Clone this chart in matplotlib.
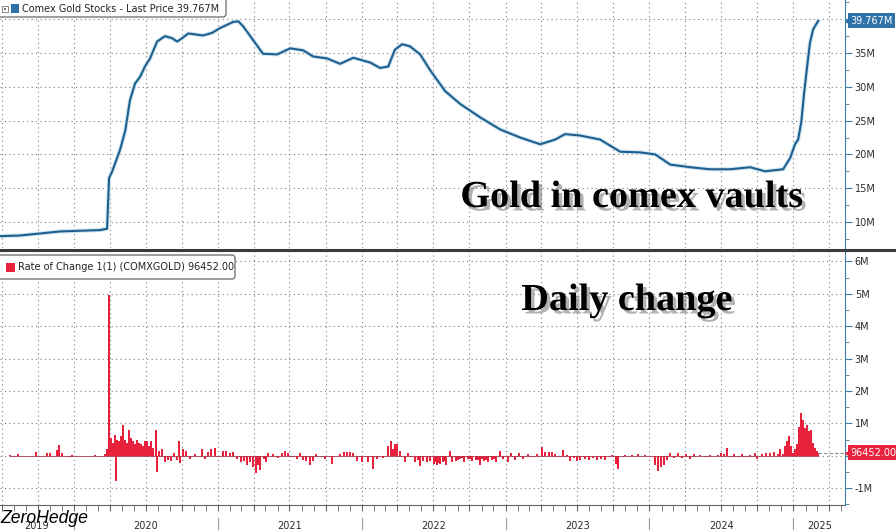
import numpy as np
import matplotlib
matplotlib.use("Agg")
import matplotlib.pyplot as plt
import matplotlib.dates as mdates
import matplotlib.patheffects as pe
from matplotlib.patches import Rectangle, FancyBboxPatch
from matplotlib.lines import Line2D
from matplotlib.transforms import IdentityTransform

# ---- values (millions of oz) ----
stock = [
    ("2019-06-27", 7.9), ("2019-08-17", 8.0), ("2019-10-07", 8.3), ("2019-11-26", 8.6),
    ("2020-01-16", 8.7), ("2020-03-07", 8.8), ("2020-03-25", 9.0), ("2020-03-30", 16.5),
    ("2020-04-07", 17.5), ("2020-04-27", 20.7), ("2020-05-10", 23.5), ("2020-05-22", 28.0),
    ("2020-06-04", 30.5), ("2020-06-17", 31.5), ("2020-06-29", 33.0), ("2020-07-12", 34.2),
    ("2020-07-30", 36.7), ("2020-08-19", 37.5), ("2020-09-06", 37.2), ("2020-09-19", 36.7),
    ("2020-10-04", 37.3), ("2020-10-17", 37.9), ("2020-11-24", 37.6), ("2020-12-17", 38.0),
    ("2021-01-06", 38.7), ("2021-02-08", 39.6), ("2021-02-21", 39.7), ("2021-03-05", 39.0),
    ("2021-03-31", 36.9), ("2021-04-25", 34.9), ("2021-05-31", 34.8), ("2021-07-03", 35.7),
    ("2021-08-05", 35.4), ("2021-08-30", 34.5), ("2021-10-05", 34.2), ("2021-11-07", 33.4),
    ("2021-12-10", 34.3), ("2022-01-22", 33.6), ("2022-02-16", 32.8), ("2022-03-09", 33.0),
    ("2022-03-26", 35.5), ("2022-04-13", 36.3), ("2022-05-03", 36.0), ("2022-05-29", 34.8),
    ("2022-06-23", 32.5), ("2022-07-31", 29.4), ("2022-09-07", 27.5), ("2022-10-28", 25.5),
    ("2022-12-18", 23.7), ("2023-02-07", 22.5), ("2023-03-30", 21.5), ("2023-05-07", 22.2),
    ("2023-06-01", 23.0), ("2023-07-09", 22.8), ("2023-08-29", 22.2), ("2023-10-19", 20.4),
    ("2023-12-09", 20.3), ("2024-01-16", 20.0), ("2024-02-23", 18.5), ("2024-04-14", 18.1),
    ("2024-06-03", 17.8), ("2024-07-24", 17.8), ("2024-09-13", 18.1), ("2024-10-21", 17.5),
    ("2024-12-06", 17.8), ("2024-12-24", 19.5), ("2025-01-05", 21.5), ("2025-01-13", 22.2),
    ("2025-01-21", 24.8), ("2025-01-28", 29.0), ("2025-02-05", 33.1), ("2025-02-12", 36.5),
    ("2025-02-20", 38.5), ("2025-03-05", 39.767),
]

change_2019 = [
    ("2019-07-22", 0.03), ("2019-08-12", 0.05), ("2019-09-26", 0.13), ("2019-10-24", 0.08),
    ("2019-11-01", 0.1), ("2019-11-19", 0.19), ("2019-11-24", 0.34), ("2019-12-02", 0.08),
    ("2019-12-22", -0.05), ("2019-12-27", 0.03),
]
change_2020 = [
    ("2020-02-23", 0.03), ("2020-03-20", 0.05), ("2020-03-25", 0.2), ("2020-03-30", 4.95),
    ("2020-04-04", 0.55), ("2020-04-09", 0.4), ("2020-04-14", 0.65), ("2020-04-17", -0.78),
    ("2020-04-19", 0.5), ("2020-04-24", 0.45), ("2020-04-29", 0.6), ("2020-05-04", 0.95),
    ("2020-05-10", 0.5), ("2020-05-15", 0.4), ("2020-05-20", 0.8), ("2020-05-25", 0.55),
    ("2020-05-30", 0.45), ("2020-06-04", 0.35), ("2020-06-09", 0.5), ("2020-06-14", 0.4),
    ("2020-06-19", 0.35), ("2020-06-24", 0.3), ("2020-06-29", 0.45), ("2020-07-04", 0.45),
    ("2020-07-10", 0.3), ("2020-07-15", 0.45), ("2020-07-20", 0.25), ("2020-07-27", 0.8),
    ("2020-07-30", -0.5), ("2020-08-04", 0.15), ("2020-08-12", 0.2), ("2020-08-19", -0.2),
    ("2020-08-27", -0.12), ("2020-09-03", -0.15), ("2020-09-11", 0.1), ("2020-09-19", -0.12),
    ("2020-09-24", 0.47), ("2020-09-26", -0.23), ("2020-10-04", 0.2), ("2020-10-11", 0.15),
    ("2020-10-22", -0.1), ("2020-11-03", 0.05), ("2020-11-21", 0.2), ("2020-11-29", -0.1),
    ("2020-12-06", 0.12), ("2020-12-14", 0.2), ("2020-12-24", 0.25),
]
change_2021 = [
    ("2021-01-03", -0.05), ("2021-01-13", 0.15), ("2021-01-21", 0.15), ("2021-01-31", 0.1),
    ("2021-02-08", 0.12), ("2021-02-18", -0.1), ("2021-02-28", -0.2), ("2021-03-08", -0.15),
    ("2021-03-15", -0.28), ("2021-03-23", -0.2), ("2021-03-31", -0.35), ("2021-04-07", -0.54),
    ("2021-04-12", -0.3), ("2021-04-17", -0.44), ("2021-04-28", -0.1), ("2021-05-03", -0.2),
    ("2021-05-08", 0.1), ("2021-05-20", 0.05), ("2021-06-02", -0.08), ("2021-06-12", 0.1),
    ("2021-06-20", 0.15), ("2021-06-28", 0.1), ("2021-07-08", -0.05), ("2021-07-20", -0.1),
    ("2021-07-28", 0.08), ("2021-08-05", -0.12), ("2021-08-12", -0.15), ("2021-08-22", -0.28),
    ("2021-08-30", -0.15), ("2021-09-07", 0.05), ("2021-09-30", -0.1), ("2021-10-17", -0.25),
    ("2021-11-07", 0.05), ("2021-11-17", 0.13), ("2021-11-24", 0.13), ("2021-12-02", 0.13),
    ("2021-12-10", 0.08), ("2021-12-20", -0.15),
]
change_2022 = [
    ("2022-01-02", -0.2), ("2022-01-17", -0.2), ("2022-01-29", -0.42), ("2022-02-09", -0.1),
    ("2022-02-24", -0.08), ("2022-03-09", 0.3), ("2022-03-16", 0.45), ("2022-03-21", 0.2),
    ("2022-03-26", 0.36), ("2022-03-31", 0.36), ("2022-04-08", 0.15), ("2022-04-21", -0.2),
    ("2022-04-28", 0.1), ("2022-05-06", -0.05), ("2022-05-16", -0.2), ("2022-05-24", -0.12),
    ("2022-05-29", -0.33), ("2022-06-05", -0.15), ("2022-06-16", -0.2), ("2022-06-23", -0.15),
    ("2022-07-03", -0.25), ("2022-07-07", -0.18), ("2022-07-11", -0.3), ("2022-07-15", -0.22),
    ("2022-07-19", -0.25), ("2022-07-26", -0.2), ("2022-07-30", -0.15), ("2022-08-03", -0.28),
    ("2022-08-13", 0.15), ("2022-08-18", -0.2), ("2022-08-28", -0.15), ("2022-09-02", -0.12),
    ("2022-09-07", -0.1), ("2022-09-12", -0.08), ("2022-09-18", -0.18), ("2022-09-28", -0.1),
    ("2022-10-03", -0.1), ("2022-10-08", -0.15), ("2022-10-18", -0.12), ("2022-10-23", -0.14),
    ("2022-10-28", -0.3), ("2022-11-02", -0.1), ("2022-11-07", -0.15), ("2022-11-13", -0.12),
    ("2022-11-18", -0.2), ("2022-11-28", -0.12), ("2022-12-03", -0.1), ("2022-12-08", -0.18),
    ("2022-12-18", 0.15), ("2022-12-26", -0.1),
]
change_2023 = [
    ("2023-01-07", -0.2), ("2023-01-15", 0.1), ("2023-01-25", -0.12), ("2023-02-04", 0.08),
    ("2023-02-14", -0.1), ("2023-02-27", 0.05), ("2023-03-12", -0.05), ("2023-03-22", 0.05),
    ("2023-04-04", 0.28), ("2023-04-11", 0.12), ("2023-04-22", 0.12), ("2023-04-29", 0.12),
    ("2023-05-07", 0.05), ("2023-05-19", -0.03), ("2023-05-27", 0.17), ("2023-06-06", 0.03),
    ("2023-06-14", -0.15), ("2023-06-24", -0.08), ("2023-07-02", -0.15), ("2023-07-09", -0.12),
    ("2023-07-22", -0.1), ("2023-08-01", -0.14), ("2023-08-11", -0.08), ("2023-08-21", -0.12),
    ("2023-09-01", -0.1), ("2023-09-11", -0.14), ("2023-09-29", 0.02), ("2023-10-09", -0.25),
    ("2023-10-14", -0.4), ("2023-11-01", 0.03), ("2023-11-18", 0.03), ("2023-12-04", 0.04),
    ("2023-12-21", 0.03),
]
change_2024 = [
    ("2024-01-16", -0.3), ("2024-01-23", -0.46), ("2024-01-31", -0.35), ("2024-02-08", -0.3),
    ("2024-02-15", -0.12), ("2024-02-23", 0.08), ("2024-03-04", -0.08), ("2024-03-14", 0.1),
    ("2024-03-24", -0.06), ("2024-04-03", 0.06), ("2024-04-14", -0.1), ("2024-04-24", 0.05),
    ("2024-05-09", 0.03), ("2024-05-22", -0.03), ("2024-06-03", 0.03), ("2024-06-24", 0.02),
    ("2024-07-01", 0.1), ("2024-07-09", 0.05), ("2024-07-16", 0.25), ("2024-07-24", -0.05),
    ("2024-08-03", 0.05), ("2024-08-14", -0.05), ("2024-08-24", 0.04), ("2024-09-03", -0.04),
    ("2024-09-13", 0.03), ("2024-09-26", 0.1), ("2024-10-01", -0.1), ("2024-10-14", 0.05),
    ("2024-10-24", 0.08), ("2024-11-03", 0.1), ("2024-11-13", 0.12), ("2024-11-23", 0.05),
    ("2024-11-28", 0.2), ("2024-12-06", 0.05), ("2024-12-11", 0.3), ("2024-12-16", 0.45),
    ("2024-12-21", 0.6), ("2024-12-26", 0.3), ("2024-12-31", 0.1),
]
change_2025 = [
    ("2025-01-05", 0.2), ("2025-01-10", 0.35), ("2025-01-16", 0.9), ("2025-01-21", 1.33),
    ("2025-01-26", 1.1), ("2025-01-31", 0.85), ("2025-02-05", 0.95), ("2025-02-10", 0.75),
    ("2025-02-15", 0.8), ("2025-02-20", 0.4), ("2025-02-25", 0.25), ("2025-03-02", 0.15),
    ("2025-03-05", 0.096452),
]

last_stock = 39.767
last_change = 96452.00
stock_label = "Comex Gold Stocks - Last Price 39.767M"
change_label = "Rate of Change 1(1) (COMXGOLD) 96452.00"
top_ticks = [10, 15, 20, 25, 30, 35, 40]
bottom_ticks = [-1, 0, 1, 2, 3, 4, 5, 6]
years = [2019, 2020, 2021, 2022, 2023, 2024, 2025]

# ---- styling ----
W, H = 896, 530
LINE = "#1f5f8e"
TAG_BLUE = "#2f72a8"
RED = "#e8213c"
AXIS_C = "#3f7fa6"
GRID = "#7d7d7d"
TXT = "#2b2b2b"
PIX = IdentityTransform()

stock_d = np.array([d for d, _ in stock], dtype="datetime64[D]")
stock_v = np.array([v for _, v in stock])
changes = change_2019 + change_2020 + change_2021 + change_2022 + change_2023 + change_2024 + change_2025
change_d = np.array([d for d, _ in changes], dtype="datetime64[D]")
change_v = np.array([v for _, v in changes])

x0, x1 = np.datetime64("2019-06-27"), np.datetime64("2025-05-12")

fig = plt.figure(figsize=(W / 100, H / 100), dpi=100)
ax1 = fig.add_axes([0, 1 - 248 / H, 845 / W, 248 / H])
ax2 = fig.add_axes([0, 1 - 505 / H, 845 / W, 254 / H])

ax1.plot(stock_d, stock_v, color=LINE, lw=1.5,
         path_effects=[pe.Stroke(linewidth=3.0, foreground="#cfe6f2"), pe.Normal()])

ax2.bar(change_d, change_v, width=4.5, color=RED, lw=0)
ax2.plot([change_d[0], change_d[-1]], [0, 0], color="#b3334a", lw=0.6)
ax2.plot([change_d[-1], x1], [last_change / 1e6] * 2, ls=(0, (3, 2)), color="#8c8c8c", lw=0.8)


def style(ax, ylim, ticks, hide):
    ax.set_xlim(x0, x1)
    ax.set_ylim(*ylim)
    for s in ("left", "top", "bottom"):
        ax.spines[s].set_visible(False)
    ax.spines["right"].set_color(AXIS_C)
    ax.yaxis.tick_right()
    labels = ["" if t == hide else f"{t}M" for t in ticks]
    ax.set_yticks(ticks, labels=labels)
    step = ticks[1] - ticks[0]
    ax.set_yticks(np.arange(ticks[0] - step / 2, ticks[-1] + step, step / 2), minor=True)
    ax.tick_params(axis="y", which="major", length=5, color=AXIS_C, labelsize=7,
                   labelcolor=TXT, pad=2)
    ax.tick_params(axis="y", which="minor", length=3, color=AXIS_C)
    ax.xaxis.set_major_locator(mdates.MonthLocator(bymonth=[1, 4, 7, 10]))
    ax.xaxis.set_minor_locator(mdates.MonthLocator())
    ax.grid(True, which="major", linestyle=(0, (1, 3)), color=GRID, lw=0.8)
    ax.set_axisbelow(True)


style(ax1, (6.15, 42.85), top_ticks, 40)
style(ax2, (-1.52, 6.32), bottom_ticks, 0)
ax1.tick_params(axis="x", which="both", length=0, labelbottom=False)
ax2.spines["bottom"].set_visible(True)
ax2.spines["bottom"].set_color("#666666")
ax2.tick_params(axis="x", which="both", length=4, color="#666666", labelbottom=False)

# year labels centred on the visible part of each year, with separators
xl0, xl1 = ax2.get_xlim()
xt = ax2.get_xaxis_transform()
for yr in years:
    a = max(mdates.date2num(np.datetime64(f"{yr}-01-01")), xl0)
    b = min(mdates.date2num(np.datetime64(f"{yr + 1}-01-01")), xl1)
    ax2.text((a + b) / 2, -0.063, str(yr), transform=xt, ha="center", va="top",
             fontsize=7, color=TXT, clip_on=False)
    if yr > years[0]:
        s = mdates.date2num(np.datetime64(f"{yr}-01-01"))
        ax2.add_line(Line2D([s, s], [-0.051, -0.11], transform=xt, color="#999999",
                            lw=0.8, clip_on=False))

# value tags on the right axis
for ax, val, txt, col in ((ax1, last_stock, "39.767M", TAG_BLUE),
                          (ax2, last_change / 1e6, f"{last_change:.2f}", RED)):
    yt = ax.get_yaxis_transform()
    ax.annotate(txt, xy=(1, val), xycoords=yt, xytext=(4, 0), textcoords="offset points",
                va="center", ha="left", fontsize=7, color="white", zorder=6,
                bbox=dict(boxstyle="square,pad=0.25", fc=col, ec="none"), annotation_clip=False)
    ax.plot([1.004], [val], marker="<", ms=5, color=col, transform=yt, clip_on=False, zorder=6)

ax1.set_ylim(6.15, 42.85)
ax2.set_ylim(-1.52, 6.32)
ax1.set_xlim(x0, x1)
ax2.set_xlim(x0, x1)

# panel separator
fig.add_artist(Line2D([0, W], [H - 249.5] * 2, transform=PIX, color="#3c3c3c", lw=2.2))

# legend boxes
fig.add_artist(FancyBboxPatch((-6, H - 17), 232, 23, boxstyle="round,pad=0,rounding_size=3",
                              transform=PIX, fc="white", ec="#555555", lw=0.8, zorder=4))
fig.add_artist(Rectangle((2, H - 12), 6, 6, transform=PIX, fill=False, ec="#777777", lw=0.6, zorder=5))
fig.add_artist(Rectangle((4, H - 10), 2, 2, transform=PIX, fc="#777777", ec="none", zorder=5))
fig.add_artist(Rectangle((11, H - 13), 8, 9, transform=PIX, fc=TAG_BLUE, ec="none", zorder=5))
fig.text(22, H - 9, stock_label, transform=PIX, va="center", ha="left", fontsize=7,
         color="#222222", zorder=5)

fig.add_artist(FancyBboxPatch((-6, H - 279), 241, 24, boxstyle="round,pad=0,rounding_size=3",
                              transform=PIX, fc="white", ec="#555555", lw=0.8, zorder=4))
fig.add_artist(Rectangle((6, H - 272), 9, 9, transform=PIX, fc=RED, ec="none", zorder=5))
fig.text(18, H - 267.5, change_label, transform=PIX, va="center", ha="left", fontsize=7,
         color="#222222", zorder=5)

# annotations
shadow = [pe.withSimplePatchShadow(offset=(2.5, -2.5), shadow_rgbFace="#555555", alpha=0.45)]
fig.text(632, H - 207, "Gold in comex vaults", transform=PIX, ha="center", va="baseline",
         fontsize=27.5, fontweight="bold", family="Liberation Serif", path_effects=shadow, zorder=5)
fig.text(627, H - 310, "Daily change", transform=PIX, ha="center", va="baseline",
         fontsize=27.5, fontweight="bold", family="Liberation Serif", path_effects=shadow, zorder=5)
fig.text(0, H - 523, "ZeroHedge", transform=PIX, ha="left", va="baseline", fontsize=12.7,
         style="italic", family="Liberation Sans", color="black", zorder=5)

fig.savefig("out.png", dpi=100)
